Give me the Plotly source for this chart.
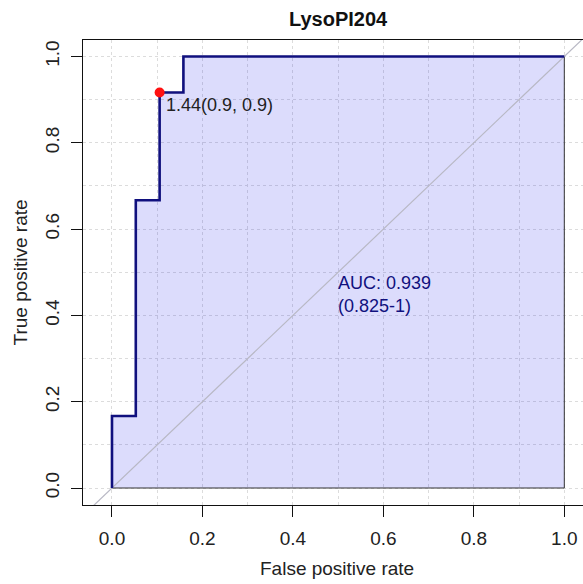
import plotly.graph_objects as go

# ---- data ----
title = "LysoPI204"
fpr = [0.0, 0.0, 0.0526, 0.0526, 0.1053, 0.1053, 0.1579, 0.1579, 1.0]
tpr = [0.0, 0.1667, 0.1667, 0.6667, 0.6667, 0.9167, 0.9167, 1.0, 1.0]
best_fpr = [0.1053]
best_tpr = [0.9167]
best_threshold = "1.44"
best_spec = "0.9"
best_sens = "0.9"
auc_text = "AUC: 0.939"
ci_text = "(0.825-1)"
tick_vals = [0.0, 0.2, 0.4, 0.6, 0.8, 1.0]
tick_text = ["0.0", "0.2", "0.4", "0.6", "0.8", "1.0"]
x_title = "False positive rate"
y_title = "True positive rate"

FONT = "Liberation Sans, Arial, sans-serif"
NAVY = "#10107e"
PLOT_H = 465
PLOT_W = 507  # plot region runs past the 583 px window, as in the reference

fig = go.Figure()

# AUC polygon
fig.add_trace(go.Scatter(
    x=fpr + [1.0, 0.0], y=tpr + [0.0, 0.0],
    mode="lines", fill="toself", fillcolor="rgba(40,40,235,0.16)",
    line=dict(color="#333333", width=1), hoverinfo="skip", showlegend=False))

# identity line
fig.add_trace(go.Scatter(
    x=[-0.2, 1.2], y=[-0.2, 1.2], mode="lines",
    line=dict(color="#b8b8c4", width=1.2), hoverinfo="skip", showlegend=False))

# ROC curve
fig.add_trace(go.Scatter(
    x=fpr, y=tpr, mode="lines",
    line=dict(color=NAVY, width=2.6), showlegend=False))

# best threshold point
fig.add_trace(go.Scatter(
    x=best_fpr, y=best_tpr, mode="markers",
    marker=dict(color="#ff1010", size=10), showlegend=False))

fig.add_annotation(
    x=best_fpr[0], y=best_tpr[0], xref="x", yref="y",
    text=f"{best_threshold}({best_spec}, {best_sens})",
    showarrow=False, xanchor="left", yanchor="middle",
    xshift=4, yshift=-13, font=dict(family=FONT, size=18, color="#222222"))

fig.add_annotation(
    x=0.5, y=0.5, xref="x", yref="y", text=f"{auc_text}<br>{ci_text}",
    showarrow=False, xanchor="left", yanchor="top", align="left",
    xshift=-2, yshift=1,
    font=dict(family=FONT, size=18, color=NAVY))

# titles (pixel positions converted to paper coords)
fig.add_annotation(
    x=(338 - 83) / PLOT_W, y=1 + (40 - 19) / PLOT_H, xref="paper", yref="paper",
    text=f"<b>{title}</b>", showarrow=False, yanchor="middle",
    font=dict(family=FONT, size=20, color="#111111"))
fig.add_annotation(
    x=(337 - 83) / PLOT_W, y=-(568 - 505) / PLOT_H, xref="paper", yref="paper",
    text=x_title, showarrow=False, xanchor="center", yanchor="middle",
    font=dict(family=FONT, size=19, color="#222222"))
fig.add_annotation(
    x=-(83 - 20) / PLOT_W, y=0.5, xref="paper", yref="paper", text=y_title,
    showarrow=False, textangle=-90, xanchor="center", yanchor="middle",
    font=dict(family=FONT, size=19, color="#222222"))

axis_common = dict(
    tickmode="array", tickvals=tick_vals, ticktext=tick_text,
    ticks="outside", ticklen=11, tickwidth=1, tickcolor="#111111",
    showline=True, mirror=True, linecolor="#111111", linewidth=1,
    showgrid=True, gridcolor="#dcdcdc", griddash="dot", gridwidth=1,
    zeroline=False,
    tickfont=dict(family=FONT, size=19, color="#222222"),
)
grid_minor = dict(minor=dict(tickmode="array",
                             tickvals=[0.1, 0.3, 0.5, 0.7, 0.9],
                             showgrid=True, gridcolor="#dcdcdc",
                             griddash="dot", gridwidth=1, ticks=""))

fig.update_xaxes(range=[-0.0641, 1.0568], ticklabelstandoff=5,
                 **axis_common, **grid_minor)
fig.update_yaxes(range=[-0.0394, 1.0382], tickangle=-90,
                 ticklabelstandoff=4, **axis_common, **grid_minor)

fig.update_layout(
    width=83 + PLOT_W, height=584,
    margin=dict(l=83, r=0, t=40, b=79, pad=0),
    paper_bgcolor="white", plot_bgcolor="white",
    showlegend=False,
)

fig.write_html(
    "out.html", config={"displayModeBar": False},
    post_script="document.documentElement.style.overflow='hidden';"
                "document.body.style.overflow='hidden';")
